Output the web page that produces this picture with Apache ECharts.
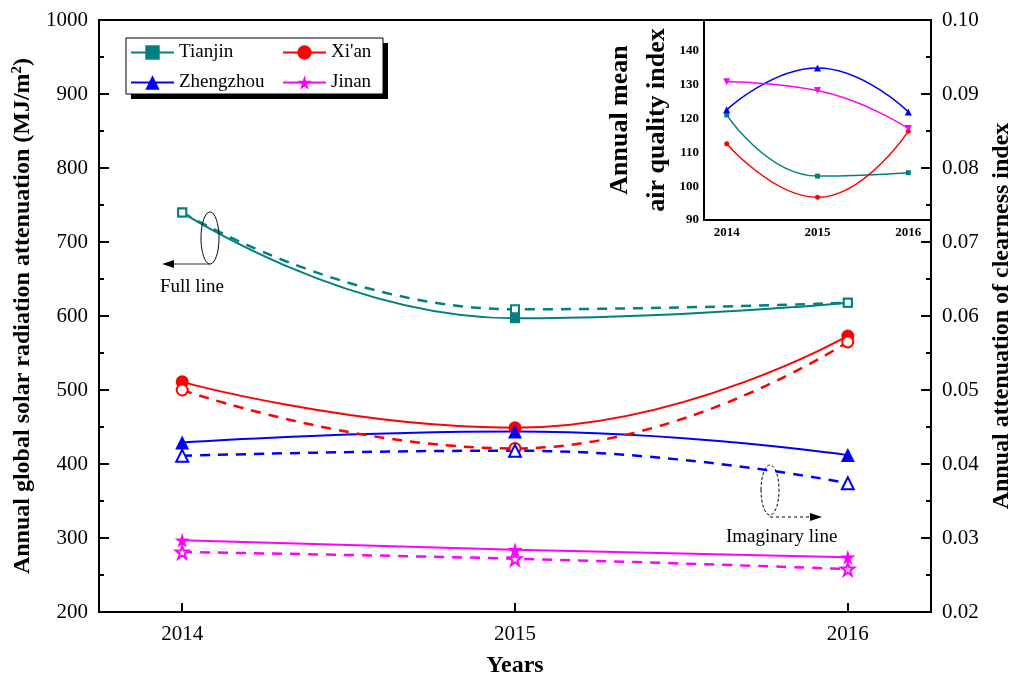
<!DOCTYPE html>
<html>
<head>
    <meta charset="utf-8">
    <title>solar radiation attenuation</title>
    <script src="https://cdn.jsdelivr.net/npm/echarts@6/dist/echarts.min.js"></script>
</head>
<body style="margin:0">
<div id="main" style="width: 1014px; height: 677px;"></div>
<script type="text/javascript">
// data
var years = [2014, 2015, 2016];
var cities = ['Tianjin', "Xi'an", 'Zhengzhou', 'Jinan'];
// full lines, left axis (MJ/m2)
var solarTianjin = [740, 597, 618];
var solarXian = [511, 449, 573];
var solarZhengzhou = [429, 444, 412];
var solarJinan = [297, 284, 274];
// imaginary (dashed) lines, right axis
var clearTianjin = [0.0740, 0.0609, 0.0618];
var clearXian = [0.0500, 0.0421, 0.0565];
var clearZhengzhou = [0.0411, 0.0418, 0.0374];
var clearJinan = [0.0281, 0.0272, 0.0258];
// inset: annual mean air quality index
var aqiTianjin = [121.1, 103.0, 104.0];
var aqiXian = [112.6, 96.7, 116.3];
var aqiZhengzhou = [122.6, 135.0, 122.0];
var aqiJinan = [130.9, 128.3, 117.1];

var colors = ['#008080', '#ff0000', '#0000ff', '#ff00ff'];
var star = 'path://M50,0 L61,35 L98,35 L68,57 L79,91 L50,70 L21,91 L32,57 L2,35 L39,35 Z';
var symbols = ['rect', 'circle', 'triangle', star];
var sizes = [10, 13, 14, 15];
var font = 'Liberation Serif, Times New Roman, serif';

function pairs(vals) {
    return years.map(function (y, i) { return [y, vals[i]]; });
}

var solid = [solarTianjin, solarXian, solarZhengzhou, solarJinan];
var dashed = [clearTianjin, clearXian, clearZhengzhou, clearJinan];
var aqi = [aqiTianjin, aqiXian, aqiZhengzhou, aqiJinan];

var series = [];
cities.forEach(function (c, i) {
    series.push({
        name: c, type: 'line', xAxisIndex: 0, yAxisIndex: 0,
        data: pairs(solid[i]), smooth: 0.5, smoothConstraint: false,
        symbol: symbols[i], symbolSize: sizes[i],
        lineStyle: {color: colors[i], width: 2},
        itemStyle: {color: colors[i]}
    });
});
cities.forEach(function (c, i) {
    series.push({
        name: c + ' (clearness)', type: 'line', xAxisIndex: 0, yAxisIndex: 1,
        data: pairs(dashed[i]), smooth: 0.5, smoothConstraint: false,
        symbol: symbols[i], symbolSize: sizes[i] - 2,
        lineStyle: {color: colors[i], width: 2.5, type: [10, 8]},
        itemStyle: {color: '#fff', borderColor: colors[i], borderWidth: 2}
    });
});
var insetSymbols = ['rect', 'circle', 'triangle', 'triangle'];
cities.forEach(function (c, i) {
    series.push({
        name: c + ' (AQI)', type: 'line', xAxisIndex: 1, yAxisIndex: 2,
        data: pairs(aqi[i]), smooth: 0.5, smoothConstraint: false,
        symbol: insetSymbols[i], symbolSize: i >= 2 ? 7 : 5,
        symbolRotate: i === 3 ? 180 : 0,
        lineStyle: {color: colors[i], width: 1.5},
        itemStyle: {color: colors[i]}
    });
});

var legendText = {fontFamily: font, fontSize: 19, color: '#000'};

var myChart = echarts.init(document.getElementById('main'));
var option = {
    animation: false,
    textStyle: {fontFamily: font, color: '#000'},
    grid: [
        {left: 99, right: 83, top: 20, bottom: 65, outerBoundsMode: 'none',
            show: true, borderColor: '#000', borderWidth: 2, backgroundColor: 'transparent'},
        {left: 704, right: 83, top: 20, height: 200, outerBoundsMode: 'none'}
    ],
    legend: [
        {
            data: ['Tianjin', 'Zhengzhou'], orient: 'vertical', left: 130, top: 43, padding: 0,
            itemWidth: 43, itemHeight: 18, itemGap: 11, textStyle: legendText
        },
        {
            data: ["Xi'an", 'Jinan'], orient: 'vertical', left: 282, top: 43, padding: 0,
            itemWidth: 43, itemHeight: 18, itemGap: 11, textStyle: legendText
        }
    ],
    xAxis: [
        {
            type: 'value', gridIndex: 0, min: 2013.75, max: 2016.25,
            name: 'Years', nameLocation: 'middle', nameGap: 42,
            nameTextStyle: {fontSize: 24, fontWeight: 'bold', fontFamily: font, color: '#000'},
            axisLine: {lineStyle: {color: '#000', width: 2}},
            axisTick: {inside: true, length: 9, customValues: years, lineStyle: {width: 2}},
            axisLabel: {customValues: years, fontSize: 21, margin: 12, color: '#000',
                formatter: function (v) { return String(v); }},
            splitLine: {show: false}
        },
        {
            type: 'value', gridIndex: 1, min: 2013.75, max: 2016.25,
            axisLine: {lineStyle: {color: '#000', width: 2}},
            axisTick: {show: false},
            axisLabel: {customValues: years, fontSize: 13, fontWeight: 'bold', margin: 6, color: '#000',
                formatter: function (v) { return String(v); }},
            splitLine: {show: false}
        }
    ],
    yAxis: [
        {
            type: 'value', gridIndex: 0, position: 'left', min: 200, max: 1000, interval: 100,
            name: 'Annual global solar radiation attenuation (MJ/m{sup|2})',
            nameLocation: 'middle', nameRotate: 90, nameGap: 54,
            nameTextStyle: {fontSize: 24, fontWeight: 'bold', fontFamily: font, color: '#000',
                rich: {sup: {fontSize: 15, fontWeight: 'bold', verticalAlign: 'top', padding: [0, 0, 12, 0]}}},
            axisLine: {show: true, lineStyle: {color: '#000', width: 2}},
            axisTick: {inside: true, length: 10, lineStyle: {width: 2}},
            minorTick: {show: true, splitNumber: 2, length: 5, lineStyle: {color: '#000', width: 2}},
            axisLabel: {fontSize: 21, margin: 11, color: '#000', formatter: function (v) { return String(v); }},
            splitLine: {show: false}
        },
        {
            type: 'value', gridIndex: 0, position: 'right', min: 0.02, max: 0.10, interval: 0.01,
            name: 'Annual attenuation of clearness index',
            nameLocation: 'middle', nameRotate: 90, nameGap: 56,
            nameTextStyle: {fontSize: 24, fontWeight: 'bold', fontFamily: font, color: '#000'},
            axisLine: {show: true, lineStyle: {color: '#000', width: 2}},
            axisTick: {inside: true, length: 10, lineStyle: {width: 2}},
            minorTick: {show: true, splitNumber: 2, length: 5, lineStyle: {color: '#000', width: 2}},
            axisLabel: {fontSize: 21, margin: 11, color: '#000', formatter: function (v) { return v.toFixed(2); }},
            splitLine: {show: false}
        },
        {
            type: 'value', gridIndex: 1, min: 90, max: 149.2, interval: 10,
            name: 'Annual mean\nair quality index',
            nameLocation: 'middle', nameRotate: 90, nameGap: 27,
            nameTextStyle: {fontSize: 26, fontWeight: 'bold', fontFamily: font, color: '#000', lineHeight: 37},
            axisLine: {show: true, lineStyle: {color: '#000', width: 2}},
            axisTick: {show: false},
            axisLabel: {fontSize: 13, fontWeight: 'bold', margin: 5, color: '#000', showMaxLabel: false},
            splitLine: {show: false}
        }
    ],
    graphic: [
        // legend frame with shadow
        {type: 'rect', shape: {x: 131, y: 43, width: 257, height: 56}, style: {fill: '#000'}, z: 0},
        {type: 'rect', shape: {x: 126, y: 38, width: 257, height: 56}, style: {fill: '#fff', stroke: '#000', lineWidth: 1}, z: 1},
        // "Full line" annotation
        {type: 'ellipse', shape: {cx: 210, cy: 238, rx: 9, ry: 26}, style: {fill: 'none', stroke: '#000', lineWidth: 1}, z: 10},
        {type: 'line', shape: {x1: 210, y1: 264, x2: 172, y2: 264}, style: {stroke: '#333', lineWidth: 1.2}, z: 10},
        {type: 'polygon', shape: {points: [[162, 264], [174, 260], [174, 268]]}, style: {fill: '#000'}, z: 10},
        {type: 'text', x: 160, y: 278, style: {text: 'Full line', font: '19px ' + font, fill: '#000'}, z: 10},
        // "Imaginary line" annotation
        {type: 'ellipse', shape: {cx: 770, cy: 490, rx: 9, ry: 25}, style: {fill: 'none', stroke: '#000', lineWidth: 1, lineDash: [3, 2]}, z: 10},
        {type: 'line', shape: {x1: 770, y1: 517, x2: 812, y2: 517}, style: {stroke: '#000', lineWidth: 1.2, lineDash: [3, 3]}, z: 10},
        {type: 'polygon', shape: {points: [[822, 517], [810, 513], [810, 521]]}, style: {fill: '#000'}, z: 10},
        {type: 'text', x: 726, y: 528, style: {text: 'Imaginary line', font: '19px ' + font, fill: '#000'}, z: 10}
    ],
    series: series
};
myChart.setOption(option);
</script>
</body>
</html>
